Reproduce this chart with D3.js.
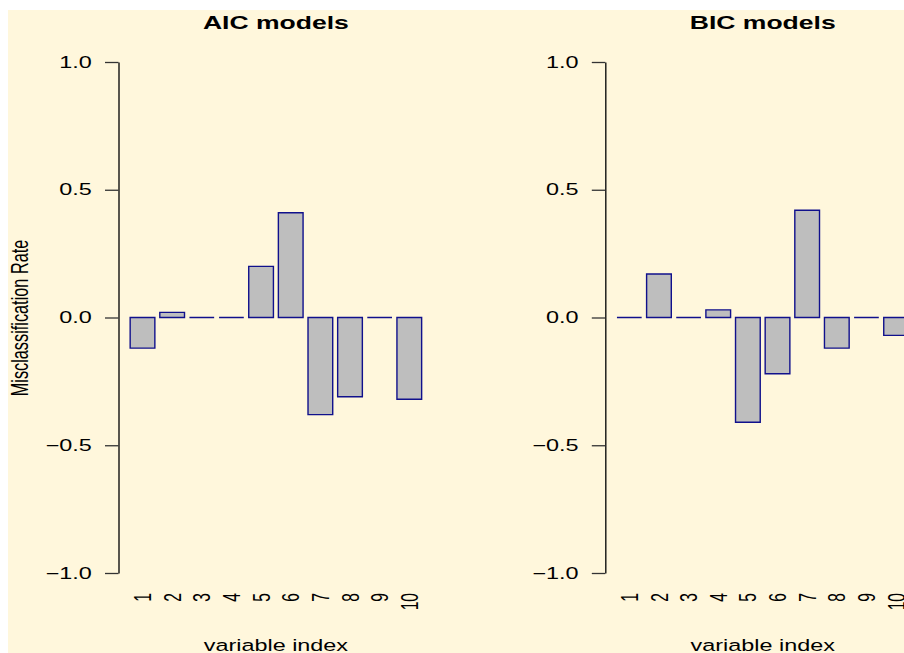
<!DOCTYPE html>
<head>
<meta charset="utf-8">
<style>
  body { margin: 0; background: #ffffff; }
  text { font-family: "Liberation Sans", Arial, sans-serif; fill: #000; }
</style>
</head>
<body>
<div id="my_dataviz"></div>
<script src="https://d3js.org/d3.v7.min.js"></script>
<script>

// values
var variables = ["1", "2", "3", "4", "5", "6", "7", "8", "9", "10"];
var aicRates = [-0.12, 0.02, 0, 0, 0.20, 0.41, -0.38, -0.31, 0, -0.32];
var bicRates = [0, 0.17, 0, 0.03, -0.41, -0.22, 0.42, -0.12, 0, -0.07];
var yTicks = [-1, -0.5, 0, 0.5, 1];
var yTickLabels = ["\u22121.0", "\u22120.5", "0.0", "0.5", "1.0"];
var panelTitles = ["AIC models", "BIC models"];

var W = 904, H = 653;
var sx = 1.5;   // the picture is stretched sideways, so is its text

var svg = d3.select("#my_dataviz")
  .append("svg")
    .attr("width", W)
    .attr("height", H);

svg.append("rect")
  .attr("x", 8).attr("y", 10)
  .attr("width", W - 8).attr("height", H - 10)
  .attr("fill", "#FFF7DC");

// shared y scale
var y = d3.scaleLinear().domain([-1, 1]).range([573, 62]);

// y axis label (only on the first panel)
svg.append("text")
  .attr("transform", "translate(28,318) scale(" + sx + ",1) rotate(-90)")
  .attr("text-anchor", "middle")
  .style("font-size", "16.3px")
  .text("Misclassification Rate");

function drawPanel(left, title, values) {
  // barplot units: width 1, space 0.2, 4% padding on each side
  var x = d3.scaleLinear()
    .domain([-0.272, 12.472])
    .range([left, left + 314.8]);

  var g = svg.append("g");

  // bars as paths so that zero bars still show their outline
  g.selectAll("path.bar")
    .data(values)
    .enter()
    .append("path")
      .attr("class", "bar")
      .attr("d", function(d, i) {
        var x0 = x(0.2 + 1.2 * i), x1 = x(1.2 + 1.2 * i);
        return "M" + x0 + "," + y(0) + "H" + x1 + "V" + y(d) + "H" + x0 + "Z";
      })
      .attr("fill", "#BEBEBE")
      .attr("stroke", "#10108C")
      .attr("stroke-width", 1.4);

  // y axis
  var yAxis = g.append("g")
    .attr("transform", "translate(" + left + ",0)")
    .call(d3.axisLeft(y)
      .tickValues(yTicks)
      .tickSize(13.5)
      .tickSizeOuter(0)
      .tickFormat(function(d, i) { return yTickLabels[i]; }));
  yAxis.select(".domain").attr("stroke", "#111").attr("stroke-width", 1.4);
  yAxis.selectAll(".tick line").attr("stroke", "#333").attr("stroke-width", 1.3);
  yAxis.selectAll(".tick text")
    .attr("x", null)
    .attr("transform", "translate(-26.8,0) scale(" + sx + ",1)")
    .attr("fill", "#000")
    .style("font-size", "15.6px")
    .style("font-family", "'Liberation Sans', Arial, sans-serif");

  // x tick labels, turned on their side
  var centers = variables.map(function(v, i) { return 0.7 + 1.2 * i; });
  var xAxis = g.append("g")
    .attr("transform", "translate(0,593)")
    .call(d3.axisBottom(x)
      .tickValues(centers)
      .tickSize(0)
      .tickFormat(function(d, i) { return variables[i]; }));
  xAxis.select(".domain").remove();
  xAxis.selectAll(".tick text")
    .attr("y", null)
    .attr("dy", null)
    .attr("transform", "scale(" + sx + ",1) rotate(-90) translate(0,5.4)")
    .attr("text-anchor", "end")
    .attr("fill", "#000")
    .style("font-size", "15.6px")
    .style("font-family", "'Liberation Sans', Arial, sans-serif");

  var mid = (x.range()[0] + x.range()[1]) / 2;

  // title
  g.append("text")
    .attr("transform", "translate(" + mid + ",29.3) scale(" + sx + ",1)")
    .attr("text-anchor", "middle")
    .style("font-size", "17.7px")
    .style("font-weight", "bold")
    .text(title);

  // x axis label
  g.append("text")
    .attr("transform", "translate(" + mid + ",651) scale(" + sx + ",1)")
    .attr("text-anchor", "middle")
    .style("font-size", "15.6px")
    .text("variable index");
}

drawPanel(118.5, panelTitles[0], aicRates);
drawPanel(605.3, panelTitles[1], bicRates);

</script>
</body>
